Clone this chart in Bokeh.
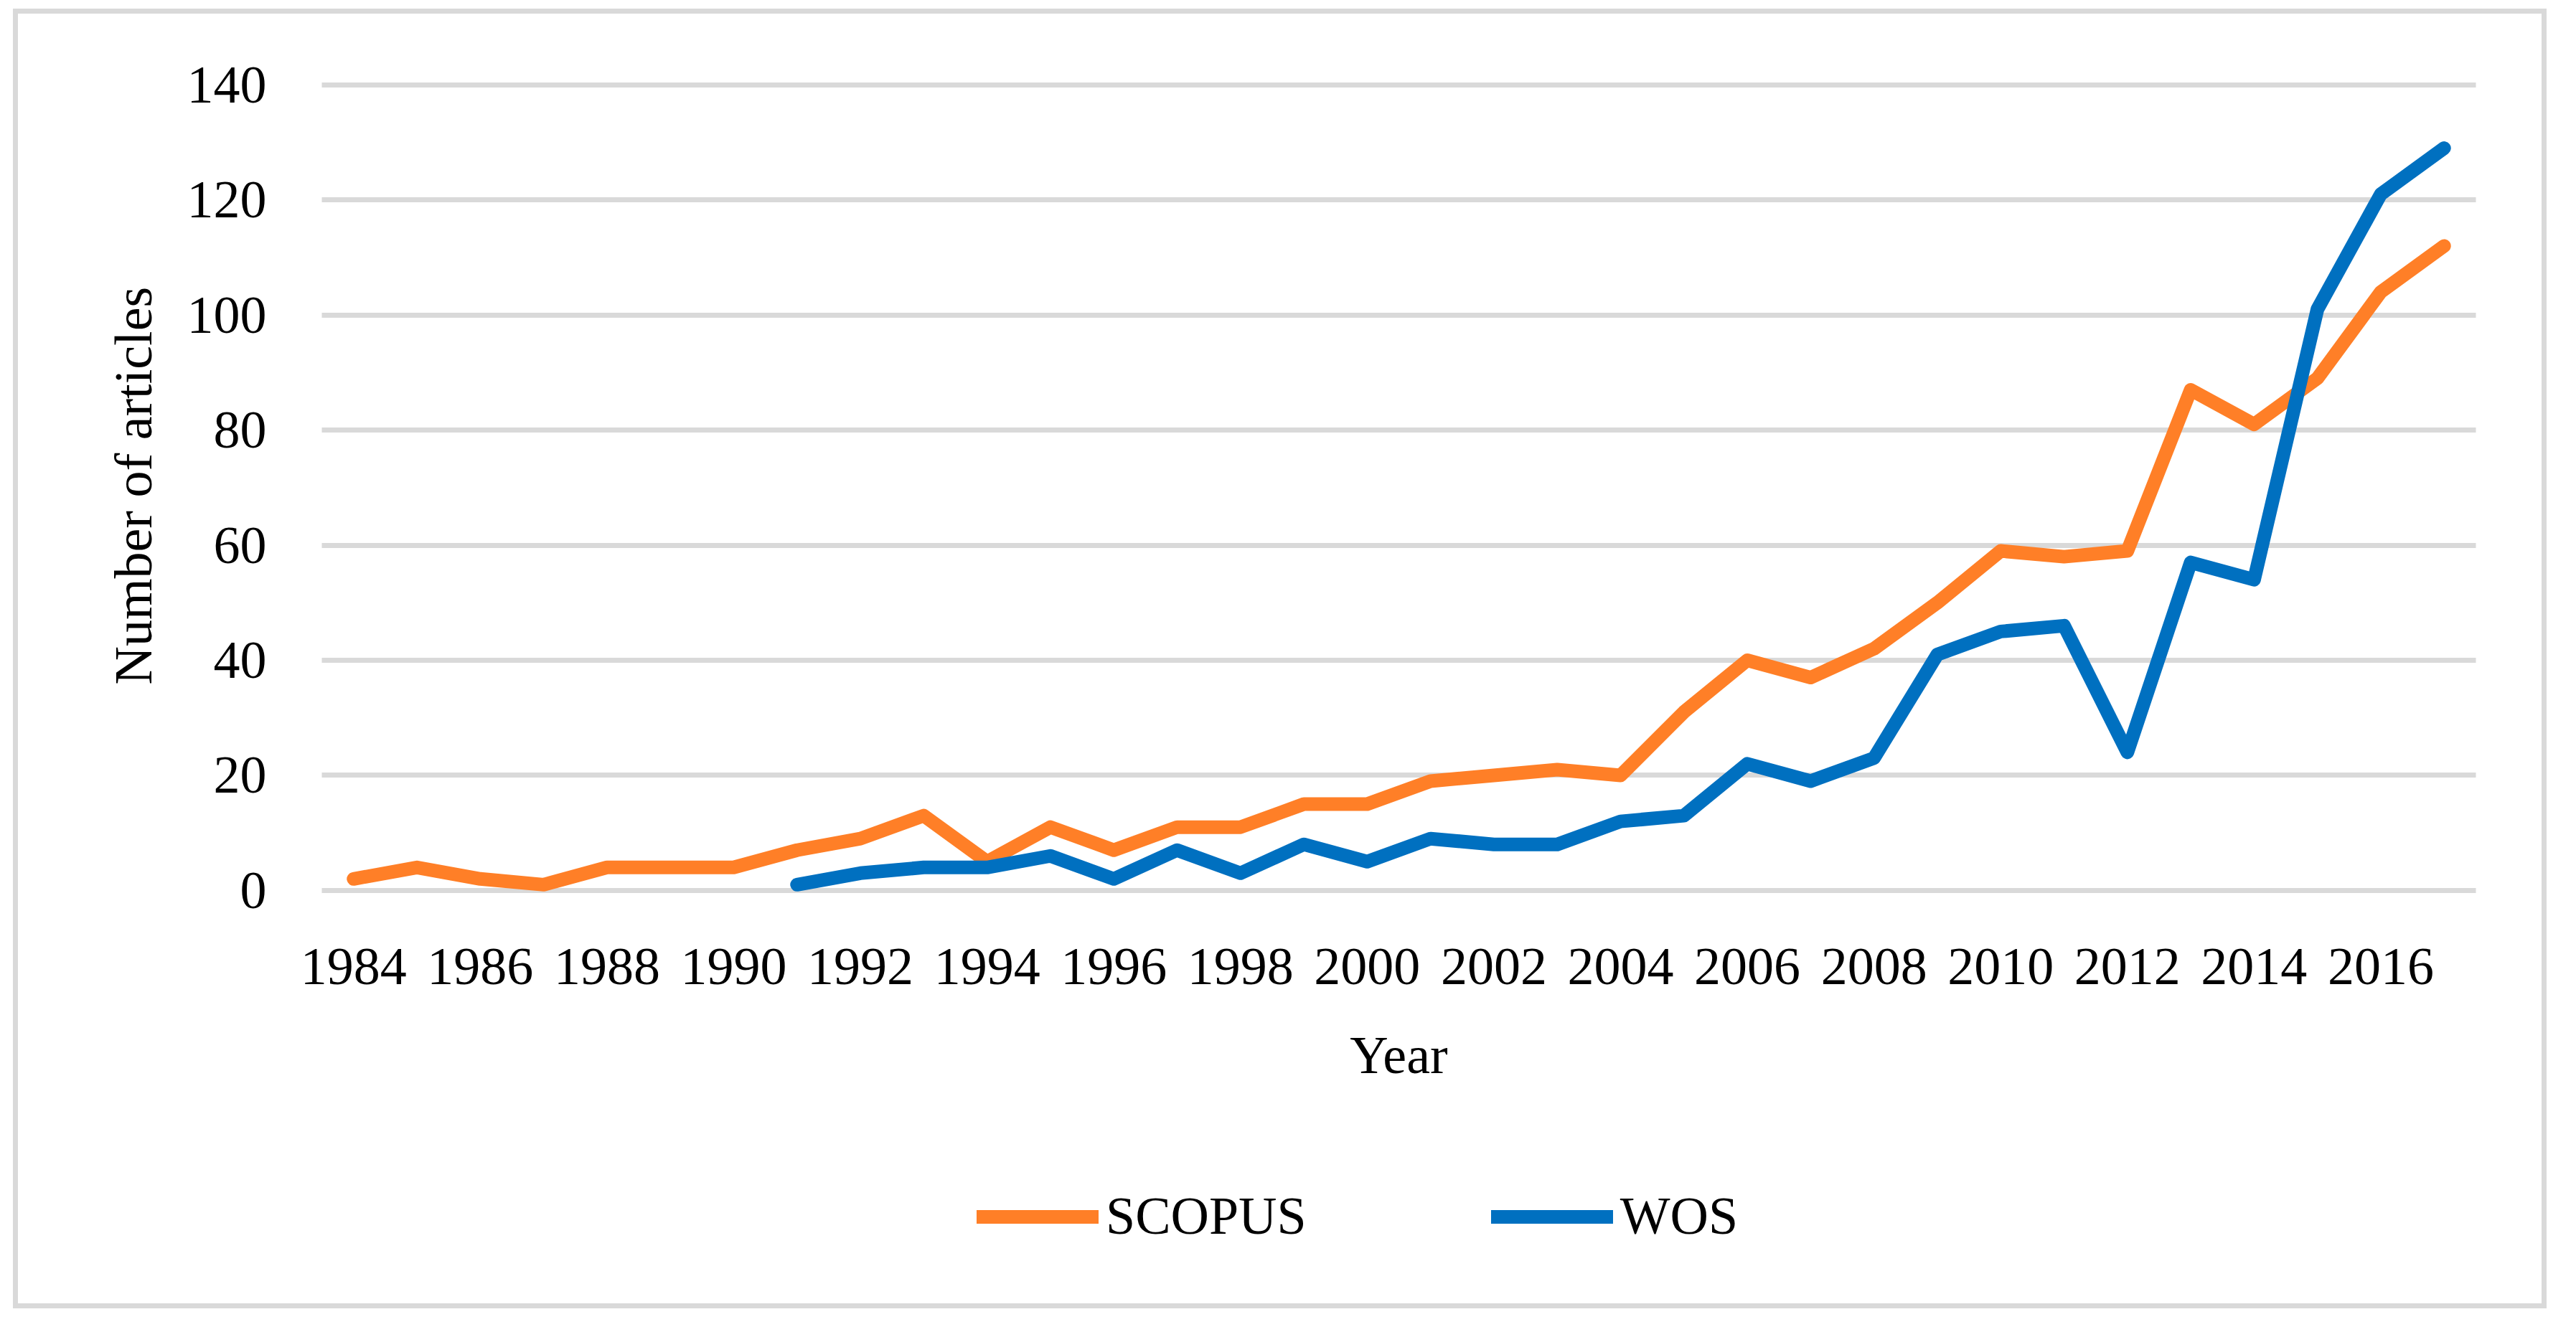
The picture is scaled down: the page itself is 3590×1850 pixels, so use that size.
from bokeh.plotting import figure
from bokeh.models import Range1d, FixedTicker, Legend, LegendItem, Title
from bokeh.embed import file_html
from bokeh.resources import INLINE

# ---- data ----
scopus_years = list(range(1984, 2018))
scopus_counts = [2, 4, 2, 1, 4, 4, 4, 7, 9, 13, 5, 11, 7, 11, 11, 15, 15, 19, 20, 21,
                 20, 31, 40, 37, 42, 50, 59, 58, 59, 87, 81, 89, 104, 112]
wos_years = list(range(1991, 2018))
wos_counts = [1, 3, 4, 4, 6, 2, 7, 3, 8, 5, 9, 8, 8, 12, 13, 22, 19, 23, 41, 45, 46,
              24, 57, 54, 101, 121, 129]
x_tick_years = list(range(1984, 2017, 2))
y_ticks = [0, 20, 40, 60, 80, 100, 120, 140]
series_names = ["SCOPUS", "WOS"]
x_label = "Year"
y_label = "Number of articles"

ORANGE = "#FF7F27"
BLUE = "#0070C0"
GRID = "#D9D9D9"
FONT = "Liberation Serif"
FS = "74px"

# the frame reaches below zero (and a little further left/right) so that the axis
# texts and the legend are drawn inside it; grid lines keep the plot-area width
p = figure(width=3531, height=1812, output_backend="svg", toolbar_location=None,
           x_range=Range1d(1983.0, 2018.0), y_range=Range1d(-69.7, 140.6),
           min_border_left=379, min_border_right=62, min_border_top=94,
           min_border_bottom=31)
p.margin = (12, 0, 0, 18)
p.styles = {"border": "7px solid #D9D9D9"}
p.outline_line_color = None
p.background_fill_color = "white"
p.border_fill_color = "white"

r1 = p.line(scopus_years, scopus_counts, line_color=ORANGE, line_width=19,
            line_cap="round", line_join="round")
r2 = p.line(wos_years, wos_counts, line_color=BLUE, line_width=19,
            line_cap="round", line_join="round")

p.xaxis.ticker = FixedTicker(ticks=x_tick_years)
p.yaxis.ticker = FixedTicker(ticks=y_ticks)
p.xaxis.fixed_location = 0
p.xgrid.grid_line_color = None
p.ygrid.grid_line_color = GRID
p.ygrid.grid_line_width = 7
p.ygrid.cross_bounds = (1983.5, 2017.5)

for ax in (p.xaxis[0], p.yaxis[0]):
    ax.axis_line_color = None
    ax.major_tick_line_color = None
    ax.minor_tick_line_color = None
    ax.major_tick_out = 0
    ax.major_tick_in = 0
    ax.minor_tick_out = 0
    ax.minor_tick_in = 0
    ax.major_label_text_font = FONT
    ax.major_label_text_font_size = FS
    ax.major_label_text_color = "black"
    ax.axis_label_text_font = FONT
    ax.axis_label_text_font_size = FS
    ax.axis_label_text_font_style = "normal"
    ax.axis_label_text_color = "black"

p.xaxis.axis_label = x_label
p.xaxis.major_label_standoff = 82
p.xaxis.axis_label_standoff = 54
p.yaxis.major_label_standoff = 33

ytitle = Title(text=y_label, align="left", offset=846, standoff=62,
               text_font=FONT, text_font_size=FS, text_font_style="normal",
               text_color="black")
p.add_layout(ytitle, "left")

legend = Legend(items=[LegendItem(label=series_names[0], renderers=[r1]),
                       LegendItem(label=series_names[1], renderers=[r2])],
                orientation="horizontal", location=(957, 62))
legend.label_text_font = FONT
legend.label_text_font_size = FS
legend.label_text_color = "black"
legend.glyph_width = 170
legend.glyph_height = 20
legend.label_standoff = 10
legend.label_height = 20
legend.spacing = 257
legend.padding = 0
legend.margin = 0
legend.border_line_color = None
legend.background_fill_alpha = 0
p.add_layout(legend, "center")

open("out.html", "w").write(file_html(p, INLINE))
